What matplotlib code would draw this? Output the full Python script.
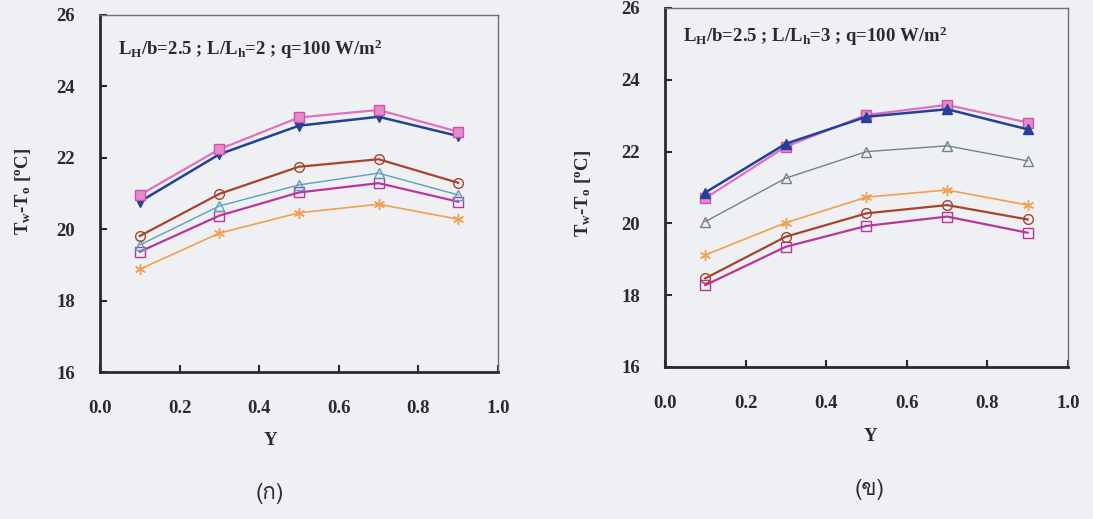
import numpy as np
import matplotlib
matplotlib.use('Agg')
import matplotlib.pyplot as plt
from matplotlib import font_manager, ft2font

plt.rc('font', family='Liberation Serif', weight='bold', size=13.5)
plt.rc('mathtext', fontset='custom', rm='Liberation Serif:bold',
       it='Liberation Serif:bold', bf='Liberation Serif:bold')


def thai_family():
    # pick any installed font that carries Thai letters
    for f in font_manager.fontManager.ttflist:
        try:
            if 0x0E01 in ft2font.FT2Font(f.fname).get_charmap():
                return f.name
        except Exception:
            pass
    return 'DejaVu Sans'


Y = [0.1, 0.3, 0.5, 0.7, 0.9]

# panel (a): L/Lh = 2
a_pink = [20.96, 22.24, 23.13, 23.34, 22.73]
a_blue = [20.77, 22.10, 22.90, 23.15, 22.61]
a_circ = [19.81, 20.99, 21.75, 21.96, 21.30]
a_tri = [19.56, 20.65, 21.24, 21.57, 20.96]
a_sq = [19.37, 20.38, 21.03, 21.29, 20.77]
a_star = [18.88, 19.89, 20.46, 20.70, 20.28]

# panel (b): L/Lh = 3
b_blue = [20.86, 22.22, 22.97, 23.18, 22.62]
b_pink = [20.70, 22.14, 23.02, 23.30, 22.81]
b_tri = [20.05, 21.26, 22.00, 22.16, 21.74]
b_star = [19.12, 20.02, 20.73, 20.93, 20.51]
b_circ = [18.47, 19.63, 20.28, 20.51, 20.11]
b_sq = [18.28, 19.35, 19.93, 20.19, 19.74]

notes = ['L$_{H}$/b=2.5 ; L/L$_{h}$=2 ; q=100 W/m$^{2}$',
         'L$_{H}$/b=2.5 ; L/L$_{h}$=3 ; q=100 W/m$^{2}$']
captions = ['(ก)', '(ข)']

bg = '#eef0f4'
ink = '#2a2a2a'

fig = plt.figure(figsize=(10.93, 5.19), dpi=100, facecolor=bg)
ax1 = fig.add_axes([0.0915, 0.2832, 0.3641, 0.6879])
ax2 = fig.add_axes([0.6084, 0.2929, 0.3687, 0.6917])

pink = dict(color='#e070c0', marker='s', ms=7, mfc='#e888cc', mec='#d050b0', lw=1.6)
blue = dict(color='#23409a', ms=7, lw=1.8)
circ = dict(color='#a8432c', marker='o', ms=7, mfc='none', lw=1.6)
sq = dict(color='#b8369a', marker='s', ms=7, mfc='none', lw=1.6)
star = dict(color='#f0a050', marker=(6, 2, 0), ms=8, lw=1.2)

ax1.plot(Y, a_star, **star)
ax1.plot(Y, a_sq, **sq)
ax1.plot(Y, a_tri, color='#5aa2bc', marker='^', ms=7, mfc='none', lw=1.0)
ax1.plot(Y, a_circ, **circ)
ax1.plot(Y, a_blue, marker='v', **blue)
ax1.plot(Y, a_pink, **pink)

ax2.plot(Y, b_sq, **sq)
ax2.plot(Y, b_circ, **circ)
ax2.plot(Y, b_star, **star)
ax2.plot(Y, b_tri, color='#6f8585', marker='^', ms=7, mfc='none', lw=1.0)
ax2.plot(Y, b_pink, **pink)
ax2.plot(Y, b_blue, marker='^', **blue)

for ax, note in zip([ax1, ax2], notes):
    ax.set_facecolor(bg)
    ax.set_xlim(0, 1)
    ax.set_ylim(16, 26)
    ax.set_xticks(np.arange(0, 1.01, 0.2))
    ax.set_yticks(np.arange(16, 26.1, 2))
    ax.xaxis.set_major_formatter(plt.FormatStrFormatter('%.1f'))
    ax.tick_params(direction='in', length=5, width=1.5, colors=ink)
    ax.tick_params(axis='y', pad=18)
    ax.tick_params(axis='x', pad=20)
    for s in ['left', 'bottom']:
        ax.spines[s].set_linewidth(2)
        ax.spines[s].set_color(ink)
    for s in ['top', 'right']:
        ax.spines[s].set_linewidth(1)
        ax.spines[s].set_color('#707070')
    ax.text(0.045, 0.905 if ax is ax1 else 0.92, note, transform=ax.transAxes,
            fontsize=13.5, color=ink, va='center')

# axis titles and captions
fig.text(0.247, 0.152, 'Y', ha='center', va='center', color=ink)
fig.text(0.796, 0.158, 'Y', ha='center', va='center', color=ink)
ylab = 'T$_{w}$-T$_{o}$ [$^{o}$C]'
fig.text(0.021, 0.632, ylab, rotation=90, ha='center', va='center', color=ink)
fig.text(0.533, 0.628, ylab, rotation=90, ha='center', va='center', color=ink)

thai = thai_family()
fig.text(0.247, 0.050, captions[0], ha='center', va='center', color=ink,
         family=[thai, 'DejaVu Sans'], fontweight='normal', fontsize=16)
fig.text(0.796, 0.056, captions[1], ha='center', va='center', color=ink,
         family=[thai, 'DejaVu Sans'], fontweight='normal', fontsize=16)

fig.savefig('out.png', dpi=100, facecolor=bg)
